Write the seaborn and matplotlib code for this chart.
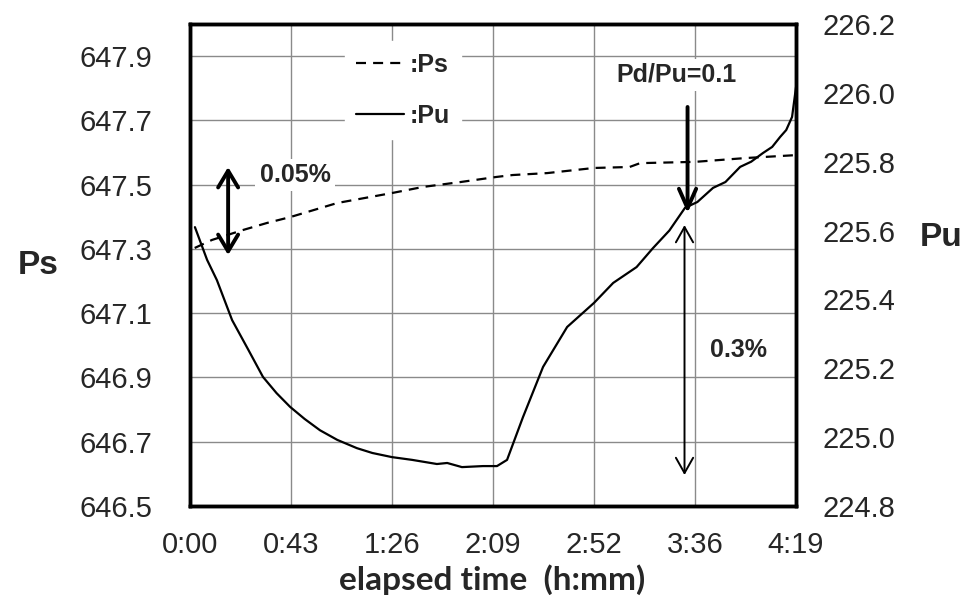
import matplotlib
matplotlib.use("Agg")
import matplotlib.pyplot as plt
import seaborn as sns
import pandas as pd
from matplotlib.lines import Line2D

# ---- data (minutes elapsed) ----
pu_time = [2.1, 7.3, 11.5, 18, 25, 31.2, 37, 42.8, 49, 55.6, 63, 71.4, 78, 86.4, 95,
           105.6, 110, 116.3, 125.3, 131.3, 135.6, 142.4, 151, 161.3, 172.8, 181,
           191, 198, 205, 211.7, 217, 223.7, 229, 235.3, 240, 245, 249, 252.4, 255,
           257.5, 259.2]
pu_vals = [225.61, 225.515, 225.456, 225.34, 225.253, 225.175, 225.128, 225.088,
           225.053, 225.02, 224.992, 224.968, 224.954, 224.942, 224.934, 224.922,
           224.925, 224.913, 224.916, 224.916, 224.934, 225.058, 225.204, 225.32,
           225.39, 225.448, 225.494, 225.549, 225.60, 225.666, 225.683, 225.724,
           225.741, 225.785, 225.80, 225.825, 225.843, 225.872, 225.892, 225.93,
           226.017]

ps_time = [2, 9.4, 22.7, 33, 42.8, 63, 86.4, 99.7, 115.5, 131, 138, 152.7, 172.8,
           188, 192.5, 216, 238, 259.2]
ps_vals = [647.303, 647.328, 647.359, 647.381, 647.399, 647.443, 647.474, 647.493,
           647.508, 647.524, 647.530, 647.536, 647.552, 647.555, 647.567, 647.571,
           647.583, 647.592]

x_ticks = [0, 43.2, 86.4, 129.6, 172.8, 216, 259.2]
x_labels = ["0:00", "0:43", "1:26", "2:09", "2:52", "3:36", "4:19"]
ps_ticks = [646.5, 646.7, 646.9, 647.1, 647.3, 647.5, 647.7, 647.9]
pu_ticks = [224.8, 225.0, 225.2, 225.4, 225.6, 225.8, 226.0, 226.2]

sns.set_style("white")
plt.rcParams["font.family"] = ["Liberation Sans", "DejaVu Sans"]

fig = plt.figure(figsize=(9.67, 5.97), dpi=100)
ax = fig.add_axes([0.1965, 0.1524, 0.6267, 0.8074])
ax2 = ax.twinx()

df_ps = pd.DataFrame({"t": ps_time, "v": ps_vals})
df_pu = pd.DataFrame({"t": pu_time, "v": pu_vals})

sns.lineplot(data=df_ps, x="t", y="v", ax=ax, color="black", lw=1.6,
             estimator=None, sort=False)
ax.lines[-1].set_dashes((4.5, 3.2))
sns.lineplot(data=df_pu, x="t", y="v", ax=ax2, color="black", lw=1.6,
             estimator=None, sort=False)

ax.set_xlim(0, 259.2)
ax.set_ylim(646.5, 648.0)
ax2.set_ylim(224.8, 226.2)
ax.set_xticks(x_ticks)
ax.set_xticklabels(x_labels)
ax.set_yticks(ps_ticks)
ax.set_yticklabels([f"{v:.1f}" for v in ps_ticks])
ax2.set_yticks(pu_ticks)
ax2.set_yticklabels([f"{v:.1f}" for v in pu_ticks])
ax.set_xlabel("")
ax.set_ylabel("")
ax2.set_ylabel("")

ax.grid(True, color="#8a8a8a", lw=1.0)
ax2.grid(False)
ax.set_axisbelow(True)

ax.tick_params(axis="y", length=0, labelsize=21, pad=27)
ax.tick_params(axis="x", length=0, labelsize=21, pad=18)
ax2.tick_params(axis="y", length=0, labelsize=21, pad=19)

for a in (ax, ax2):
    for s in a.spines.values():
        s.set_visible(True)
        s.set_color("black")
        s.set_linewidth(2.5)

# legend
h_ps = Line2D([], [], color="black", lw=1.6, dashes=(4.5, 3.2))
h_pu = Line2D([], [], color="black", lw=1.6)
leg = ax2.legend([h_ps, h_pu], [":Ps", ":Pu"], loc="upper left",
                 bbox_to_anchor=(0.235, 0.99), frameon=True, fancybox=False,
                 facecolor="white", edgecolor="white", framealpha=1,
                 handlelength=1.9, handletextpad=0.25, labelspacing=1.1,
                 prop={"weight": "bold", "size": 18}, borderpad=0.45)

# annotations
ax.annotate("", xy=(16.3, 647.281), xytext=(16.3, 647.555),
            arrowprops=dict(arrowstyle="<->,head_length=1.2,head_width=0.72",
                            lw=2.8, color="black", shrinkA=0, shrinkB=0))
ax.text(44.9, 647.53, "0.05%", ha="center", va="center", fontsize=18,
        fontweight="bold", bbox=dict(facecolor="white", edgecolor="none", pad=3))

ax2.annotate("", xy=(212.8, 225.651), xytext=(212.8, 225.959),
             arrowprops=dict(arrowstyle="->,head_length=1.4,head_width=0.62",
                             lw=2.8, color="black", shrinkA=0, shrinkB=0))
ax2.text(207.9, 226.052, "Pd/Pu=0.1", ha="center", va="center", fontsize=18,
         fontweight="bold", bbox=dict(facecolor="white", edgecolor="none", pad=3))

ax2.annotate("", xy=(211.5, 224.89), xytext=(211.5, 225.616),
             arrowprops=dict(arrowstyle="<->,head_length=1.1,head_width=0.62",
                             lw=1.4, color="black", shrinkA=0, shrinkB=0))
ax2.text(234.4, 225.253, "0.3%", ha="center", va="center", fontsize=18,
         fontweight="bold", bbox=dict(facecolor="white", edgecolor="none", pad=5))

fig.text(38 / 967, 1 - 266 / 597, "Ps", ha="center", va="center",
         fontsize=24, fontweight="bold")
fig.text(941 / 967, 1 - 238 / 597, "Pu", ha="center", va="center",
         fontsize=24, fontweight="bold")
fig.text(492 / 967, 1 - 580 / 597, "elapsed time  (h:mm)", ha="center",
         va="center", fontsize=24, fontweight="bold", family=["Lato", "DejaVu Sans"])

fig.savefig("out.png", dpi=100)
